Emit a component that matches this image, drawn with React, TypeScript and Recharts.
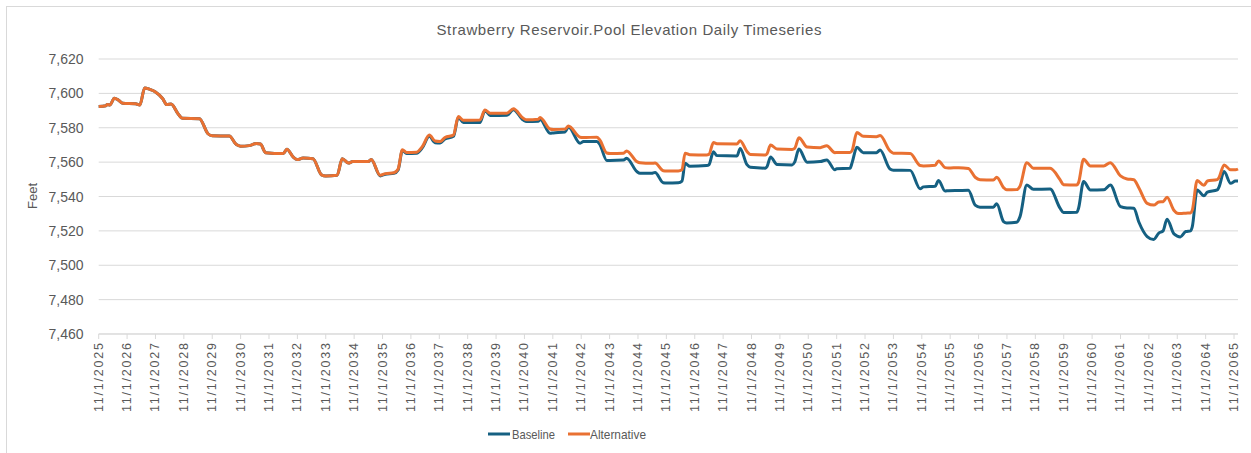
import React from 'react';
import { LineChart, Line, XAxis, YAxis, CartesianGrid } from 'recharts';

// years since 11/1/2025
const timeYears = [
  0.0, 0.25, 0.3, 0.4, 0.55, 0.7, 0.85, 1.3, 1.45, 1.62, 1.8, 2.0, 2.25, 2.4, 2.55, 2.8, 2.95, 3.55, 3.85, 4.0,
  4.6, 4.85, 5.0, 5.3, 5.55, 5.7, 5.88, 6.5, 6.63, 6.85, 7.0, 7.2, 7.55, 7.85, 8.0, 8.4, 8.58, 8.8, 8.95, 9.5,
  9.6, 9.92, 10.1, 10.4, 10.55, 10.7, 10.85, 11.2, 11.4, 11.65, 11.85, 12.03, 12.2, 12.5, 12.67, 12.85, 13.43, 13.61, 13.79, 14.38,
  14.61, 14.96, 15.08, 15.49, 15.55, 15.9, 16.02, 16.43, 16.55, 16.96, 17.08, 17.55, 17.65, 17.9, 18.02, 18.49, 18.6, 18.96, 19.07, 19.48,
  19.6, 19.89, 20.01, 20.42, 20.55, 20.66, 20.83, 21.42, 21.5, 21.66, 21.78, 22.49, 22.6, 22.84, 22.96, 23.49, 23.55, 23.67, 23.9, 24.43,
  24.52, 24.67, 24.96, 25.42, 25.65, 25.94, 26.0, 26.47, 26.55, 26.71, 26.94, 27.4, 27.53, 27.88, 28.0, 28.59, 28.94, 29.06, 29.47, 29.59,
  29.82, 29.94, 30.3, 30.64, 30.88, 31.05, 31.52, 31.64, 31.88, 31.99, 32.34, 32.46, 32.7, 32.93, 33.52, 33.87, 33.99, 34.46, 34.52, 34.7,
  34.94, 35.41, 35.64, 36.0, 36.23, 36.47, 36.65, 36.94, 37.17, 37.35, 37.5, 37.64, 37.88, 38.0, 38.11, 38.3, 38.47, 38.53, 38.7, 38.94,
  39.06, 39.41, 39.47, 39.65, 39.88, 40.05, 40.14,
];

const alternative = [
  7592.3, 7592.8, 7593.5, 7593.3, 7597.2, 7596.0, 7594.3, 7594.0, 7593.2, 7603.2, 7602.3, 7600.8, 7597.0, 7593.5, 7593.8, 7588.0, 7585.5, 7585.3, 7576.5, 7575.3,
  7575.2, 7570.2, 7569.3, 7569.6, 7570.8, 7570.5, 7565.5, 7565.0, 7567.5, 7563.0, 7561.5, 7562.4, 7562.0, 7552.6, 7552.0, 7552.3, 7562.0, 7559.5, 7560.3, 7560.3,
  7561.5, 7552.3, 7553.3, 7553.8, 7556.0, 7567.2, 7565.6, 7565.8, 7569.0, 7575.8, 7572.3, 7572.0, 7574.3, 7575.8, 7586.5, 7584.3, 7584.5, 7590.3, 7588.5, 7588.5,
  7591.0, 7585.5, 7584.6, 7585.0, 7586.0, 7579.3, 7579.0, 7579.2, 7581.0, 7574.5, 7574.3, 7574.5, 7573.0, 7565.3, 7565.0, 7565.2, 7566.5, 7560.3, 7559.6, 7559.3,
  7559.5, 7555.0, 7554.8, 7554.8, 7555.5, 7565.2, 7564.3, 7564.2, 7564.5, 7571.4, 7570.7, 7570.6, 7572.5, 7566.2, 7564.5, 7564.2, 7565.0, 7570.0, 7567.6, 7567.4,
  7568.0, 7574.2, 7568.8, 7568.4, 7569.5, 7565.5, 7565.6, 7565.6, 7567.0, 7577.2, 7575.0, 7574.8, 7575.5, 7566.5, 7565.2, 7565.0, 7558.0, 7557.8, 7558.2, 7560.7,
  7556.8, 7556.6, 7556.8, 7556.3, 7551.2, 7549.8, 7549.6, 7551.2, 7545.2, 7543.9, 7544.0, 7546.0, 7559.7, 7556.5, 7556.4, 7549.8, 7546.9, 7546.7, 7548.0, 7561.7,
  7557.8, 7557.8, 7559.7, 7552.0, 7550.2, 7549.8, 7545.0, 7536.0, 7535.0, 7536.8, 7537.0, 7539.6, 7532.0, 7530.3, 7530.1, 7530.3, 7530.4, 7532.0, 7549.3, 7546.5,
  7549.0, 7549.8, 7551.0, 7558.4, 7555.5, 7555.5, 7556.0,
];

const baseline = [
  7592.3, 7592.8, 7593.5, 7593.3, 7597.2, 7596.0, 7594.3, 7594.0, 7593.2, 7603.2, 7602.3, 7600.8, 7597.0, 7593.5, 7593.8, 7588.0, 7585.5, 7585.3, 7576.5, 7575.3,
  7575.2, 7570.2, 7569.3, 7569.6, 7570.8, 7570.5, 7565.5, 7565.0, 7567.5, 7563.0, 7561.5, 7562.4, 7562.0, 7552.6, 7552.0, 7552.3, 7562.0, 7559.5, 7560.3, 7560.3,
  7561.5, 7552.0, 7553.0, 7553.5, 7555.5, 7566.8, 7565.0, 7565.2, 7568.3, 7575.0, 7571.3, 7571.2, 7573.4, 7575.0, 7586.0, 7583.0, 7583.0, 7590.0, 7587.2, 7587.3,
  7590.5, 7584.5, 7583.6, 7583.8, 7585.0, 7576.8, 7577.0, 7577.5, 7580.5, 7571.0, 7572.0, 7572.0, 7570.5, 7561.0, 7561.0, 7561.2, 7562.3, 7554.5, 7553.5, 7553.5,
  7554.0, 7548.0, 7547.8, 7548.0, 7549.0, 7559.3, 7557.6, 7558.0, 7558.5, 7566.0, 7563.8, 7563.6, 7568.0, 7558.5, 7557.0, 7556.5, 7557.5, 7563.0, 7558.6, 7558.4,
  7560.0, 7567.6, 7560.0, 7560.3, 7561.3, 7555.5, 7556.2, 7556.4, 7560.0, 7568.6, 7565.5, 7565.5, 7567.0, 7556.0, 7555.3, 7555.2, 7544.5, 7545.6, 7546.0, 7549.3,
  7543.2, 7543.4, 7543.5, 7543.6, 7535.0, 7533.8, 7533.8, 7535.8, 7525.4, 7524.6, 7525.0, 7528.3, 7546.7, 7544.2, 7544.3, 7533.2, 7530.7, 7530.8, 7533.0, 7548.7,
  7543.8, 7543.9, 7546.7, 7534.1, 7533.3, 7533.2, 7525.0, 7516.7, 7515.0, 7518.7, 7520.0, 7526.8, 7518.3, 7517.0, 7516.5, 7519.6, 7520.0, 7522.5, 7543.8, 7540.4,
  7542.5, 7543.8, 7545.5, 7554.5, 7547.7, 7549.0, 7549.0,
];

const tickYears = [
  2025, 2026, 2027, 2028, 2029, 2030, 2031, 2032, 2033, 2034, 2035, 2036, 2037, 2038, 2039, 2040, 2041, 2042, 2043, 2044,
  2045, 2046, 2047, 2048, 2049, 2050, 2051, 2052, 2053, 2054, 2055, 2056, 2057, 2058, 2059, 2060, 2061, 2062, 2063, 2064, 2065,
];
const yTicks = [7460, 7480, 7500, 7520, 7540, 7560, 7580, 7600, 7620];

const seriesNames = ['Baseline', 'Alternative'];
const colors = ['#156082', '#E97132'];
const FONT = '"Liberation Sans", Arial, sans-serif';
const TEXT = '#595959';
const GRID = '#d9d9d9';

const data = timeYears.map((t, i) => ({ t, baseline: baseline[i], alternative: alternative[i] }));
const xTicks = tickYears.map((y) => y - tickYears[0]);

const XTick = (props: any) => {
  const { x, payload } = props;
  return (
    <text
      transform={`translate(${x},343) rotate(-90)`}
      textAnchor="end"
      dominantBaseline="central"
      fontSize={12.5}
      fontFamily={FONT}
      fill={TEXT}
      textLength={69}
      lengthAdjust="spacing"
    >
      {`11/1/${tickYears[0] + payload.value}`}
    </text>
  );
};

const YTick = (props: any) => {
  const { y, payload } = props;
  return (
    <text x={83.5} y={y} textAnchor="end" dominantBaseline="central" fontSize={14} fontFamily={FONT} fill={TEXT}>
      {Number(payload.value).toLocaleString('en-US')}
    </text>
  );
};

export default function App() {
  return (
    <div style={{ position: 'absolute', left: 0, top: 0, width: 1251, height: 453, overflow: 'hidden', background: '#fff' }}>
      <div
        style={{
          position: 'absolute',
          left: 6,
          top: 6,
          width: 1300,
          height: 500,
          borderLeft: `1px solid ${GRID}`,
          borderTop: `1px solid ${GRID}`,
        }}
      />
      <div style={{ position: 'absolute', left: 0, top: 0 }}>
        <LineChart width={1251} height={453} data={data} margin={{ top: 59, right: 13, bottom: 39, left: 0 }}>
          <CartesianGrid horizontal vertical={false} stroke={GRID} strokeWidth={1} />
          <XAxis
            dataKey="t"
            type="number"
            domain={[0, 40.14]}
            ticks={xTicks}
            interval={0}
            height={80}
            axisLine={{ stroke: GRID }}
            tickLine={{ stroke: GRID }}
            tickSize={5}
            tick={<XTick />}
          />
          <YAxis
            type="number"
            domain={[7460, 7620]}
            ticks={yTicks}
            interval={0}
            width={98.7}
            axisLine={false}
            tickLine={false}
            tick={<YTick />}
          />
          <Line
            dataKey="baseline"
            name={seriesNames[0]}
            type="monotone"
            stroke={colors[0]}
            strokeWidth={3}
            dot={false}
            strokeLinejoin="round"
            isAnimationActive={false}
          />
          <Line
            dataKey="alternative"
            name={seriesNames[1]}
            type="monotone"
            stroke={colors[1]}
            strokeWidth={3}
            dot={false}
            strokeLinejoin="round"
            isAnimationActive={false}
          />
        </LineChart>
      </div>
      <svg width={1251} height={453} style={{ position: 'absolute', left: 0, top: 0, pointerEvents: 'none' }}>
        <text
          x={629}
          y={35}
          textAnchor="middle"
          fontSize={15}
          fontFamily={FONT}
          fill={TEXT}
          textLength={385}
          lengthAdjust="spacing"
        >
          Strawberry Reservoir.Pool Elevation Daily Timeseries
        </text>
        <text
          transform="translate(32,196) rotate(-90)"
          textAnchor="middle"
          dominantBaseline="central"
          fontSize={13}
          fontFamily={FONT}
          fill={TEXT}
        >
          Feet
        </text>
        <line x1={488} y1={434} x2={510} y2={434} stroke={colors[0]} strokeWidth={3} />
        <text x={512} y={434} dominantBaseline="central" fontSize={13} fontFamily={FONT} fill={TEXT} textLength={43} lengthAdjust="spacingAndGlyphs">
          {seriesNames[0]}
        </text>
        <line x1={568} y1={434} x2={590} y2={434} stroke={colors[1]} strokeWidth={3} />
        <text x={590} y={434} dominantBaseline="central" fontSize={13} fontFamily={FONT} fill={TEXT} textLength={56} lengthAdjust="spacingAndGlyphs">
          {seriesNames[1]}
        </text>
      </svg>
    </div>
  );
}
